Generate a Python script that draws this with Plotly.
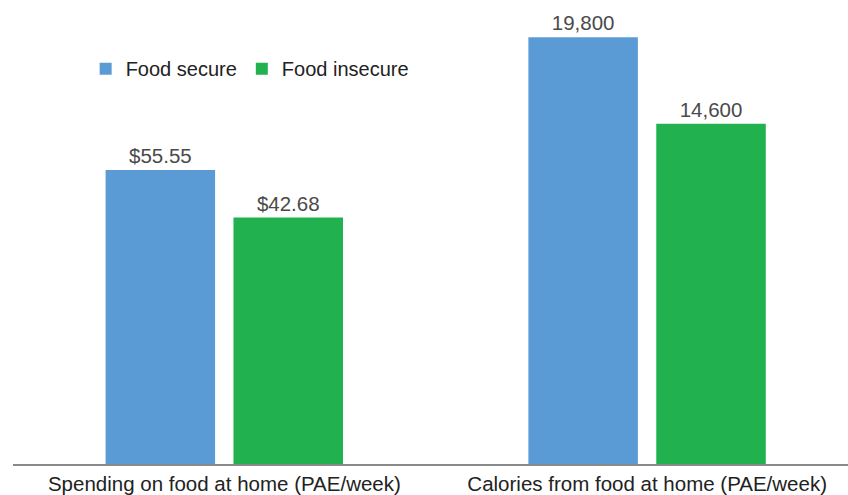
import plotly.graph_objects as go

categories = ["Spending on food at home (PAE/week)", "Calories from food at home (PAE/week)"]
series_names = ["Food secure", "Food insecure"]
spending = [55.55, 42.68]        # food secure, food insecure
calories = [19800, 14600]        # food secure, food insecure
spending_labels = ["$55.55", "$42.68"]
calorie_labels = ["19,800", "14,600"]

colors = ["#5B9BD5", "#21B14F"]
offsets = [-0.281, 0.0215]
bar_w = 0.259

# Axis floors (bars rise from the bottom of each axis, as in the original graphic)
SPEND_FLOOR = -24.21
SPEND_TOP = 101.7
CAL_FLOOR = -5805.0
CAL_TOP = 22029.0

fig = go.Figure()
for i, name in enumerate(series_names):
    fig.add_trace(go.Bar(
        x=[categories[0]], y=[spending[i] - SPEND_FLOOR], base=SPEND_FLOOR,
        name=name, marker=dict(color=colors[i], line=dict(width=0)),
        offset=offsets[i], width=bar_w,
        text=[spending_labels[i]], textposition="outside", cliponaxis=False,
        textfont=dict(size=20.5, color="#4a4a4a"),
        yaxis="y", legendgroup=name, showlegend=True,
    ))
for i, name in enumerate(series_names):
    fig.add_trace(go.Bar(
        x=[categories[1]], y=[calories[i] - CAL_FLOOR], base=CAL_FLOOR,
        name=name, marker=dict(color=colors[i], line=dict(width=0)),
        offset=offsets[i], width=bar_w,
        text=[calorie_labels[i]], textposition="outside", cliponaxis=False,
        textfont=dict(size=20.5, color="#4a4a4a"),
        yaxis="y2", legendgroup=name, showlegend=False,
    ))

fig.update_layout(
    width=848, height=495,
    margin=dict(l=13, r=0, t=0, b=29),
    paper_bgcolor="white", plot_bgcolor="white",
    font=dict(family="Liberation Sans, Arial, sans-serif", color="#222"),
    barmode="overlay",
    xaxis=dict(
        type="category", categoryorder="array", categoryarray=categories,
        range=[-0.5, 1.475], showline=True, linecolor="#8a8a8a", linewidth=2,
        showgrid=False, ticks="", tickfont=dict(size=20.5, color="#222"),
        zeroline=False,
    ),
    yaxis=dict(range=[SPEND_FLOOR, SPEND_TOP], visible=False),
    yaxis2=dict(range=[CAL_FLOOR, CAL_TOP], overlaying="y", visible=False),
    legend=dict(
        orientation="h", x=0.087, y=0.852, xanchor="left", yanchor="middle",
        font=dict(size=20, color="#222"), bgcolor="rgba(0,0,0,0)",
    ),
    showlegend=True,
)

fig.write_html("out.html")
